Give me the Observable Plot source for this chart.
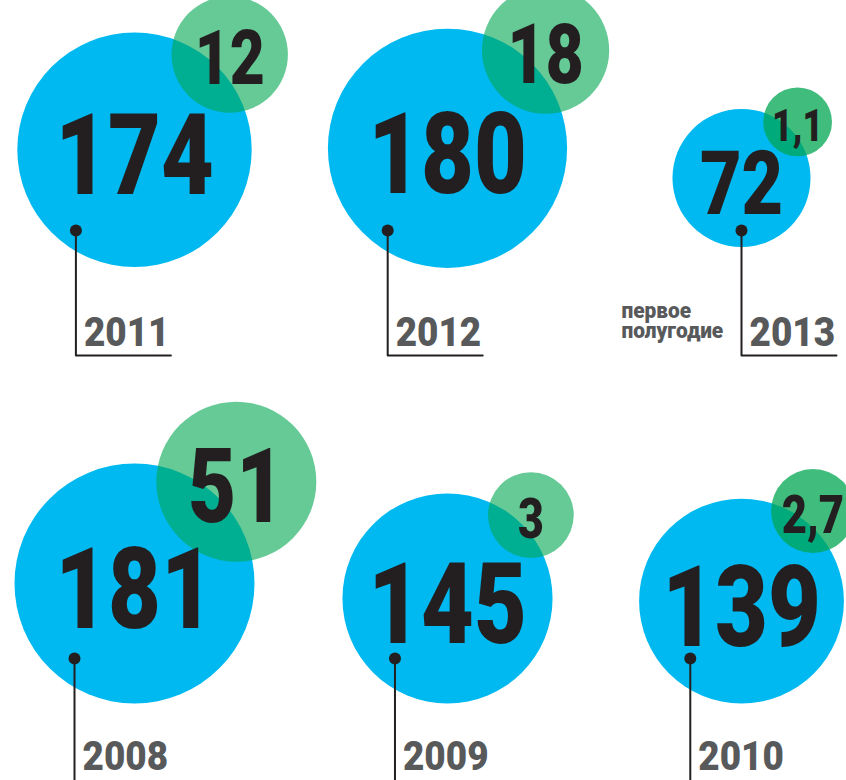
<!DOCTYPE html>
<html>
<head>
<meta charset="utf-8">
<script src="https://cdn.jsdelivr.net/npm/d3@7"></script>
<script src="https://cdn.jsdelivr.net/npm/@observablehq/plot@0.6"></script>
<style>
  html, body { margin: 0; padding: 0; overflow: hidden; background: #fff; }
  #chart svg { display: block; overflow: hidden; }
</style>
</head>
<body>
<div id="chart"></div>
<script>
// ---- data ----
const years = ["2011", "2012", "2013", "2008", "2009", "2010"];
const totals = [174, 180, 72, 181, 145, 139];
const totalLabels = ["174", "180", "72", "181", "145", "139"];
const extras = [12, 18, 1.1, 51, 3, 2.7];
const extraLabels = ["12", "18", "1,1", "51", "3", "2,7"];
const notes = ["", "", "первое\nполугодие", "", "", ""];

// ---- layout ----
const W = 846, H = 780;
const colX = [134, 447, 741];
const rowAnchor = [218, 703];   // circle centre = anchor - k * radius
const rowK = [0.587, 1];
const rowDot = [230, 658];
const rowYear = [345, 769];
const rowLeader = [355, 783];

const FONT = "Roboto, 'Liberation Sans', sans-serif";
const BLUE = "#00b9f1";
const GREEN = "#00a651";
const INK = "#231f20";
const GREY = "#58595b";

const blueR = Plot.scale({r: {type: "pow", exponent: 0.6, domain: [0, 181], range: [0, 120]}});
const greenR = Plot.scale({r: {type: "pow", exponent: 0.22, domain: [0, 51], range: [0, 80]}});

const panels = years.map((year, i) => {
  const col = i % 3, row = Math.floor(i / 3);
  const rb = blueR.apply(totals[i]);
  const rg = greenR.apply(extras[i]);
  const cx = colX[col], cy = rowAnchor[row] - rowK[row] * rb;
  const ang = Math.PI / 4, d = rb + 0.3 * rg;
  let gx = cx + d * Math.cos(ang), gy = cy - d * Math.sin(ang);
  const limit = W - 0.8 * rg;
  if (gx > limit) {            // keep the small circle on the page: slide it up along the rim
    gy -= Math.sqrt(Math.max(0, d * d - (limit - cx) ** 2)) - (cy - gy);
    gx = limit;
  }
  const dotX = notes[i] ? cx : cx - 0.5 * rb;
  return {
    year, total: totals[i], totalLabel: totalLabels[i],
    extra: extras[i], extraLabel: extraLabels[i], note: notes[i],
    rb, rg, cx, cy, gx, gy,
    fsB: Math.min(114, 1.3 * rb), fsG: 1.3 * rg,
    dotX, dotY: rowDot[row], yearY: rowYear[row], leaderY: rowLeader[row]
  };
});

const leader = panels.flatMap(p => [
  {year: p.year, x: p.dotX, y: p.dotY},
  {year: p.year, x: p.dotX, y: p.leaderY},
  {year: p.year, x: p.dotX + 95, y: p.leaderY}
]);

const chart = Plot.plot({
  width: W, height: H,
  margin: 0,
  x: {type: "linear", domain: [0, W], range: [0, W], axis: null},
  y: {type: "linear", domain: [0, H], range: [0, H], axis: null},
  r: {type: "identity"},
  style: {background: "#fff"},
  marks: [
    Plot.dot(panels, {x: "cx", y: "cy", r: "rb", fill: BLUE, stroke: null}),
    Plot.dot(panels, {x: "gx", y: "gy", r: "rg", fill: GREEN, stroke: null,
      fillOpacity: d => d.extra < 3 ? 0.75 : 0.6}),
    Plot.line(leader, {x: "x", y: "y", z: "year", stroke: INK, strokeWidth: 2, curve: "linear"}),
    Plot.dot(panels, {x: "dotX", y: "dotY", r: 6, fill: INK, stroke: null}),
    Plot.text(panels, {x: "cx", y: d => d.cy + 0.355 * d.fsB + 4, text: "totalLabel",
      fontSize: d => d.fsB, lineAnchor: "bottom", fill: INK, fontWeight: 900, fontFamily: FONT}),
    Plot.text(panels, {x: "gx", y: d => d.gy + 0.355 * d.fsG + 3, text: "extraLabel",
      fontSize: d => d.fsG, lineAnchor: "bottom", fill: INK, fontWeight: 900, fontFamily: FONT}),
    Plot.text(panels, {x: d => d.dotX + 8, y: "yearY", text: "year", textAnchor: "start",
      lineAnchor: "bottom", fontSize: 41, fill: GREY, fontWeight: 900, fontFamily: FONT}),
    Plot.text(panels.filter(p => p.note), {x: d => d.dotX - 120, y: d => d.yearY - 8, text: "note",
      textAnchor: "start", lineAnchor: "bottom", fontSize: 22, lineHeight: 0.87,
      fill: GREY, fontWeight: 900, fontFamily: FONT})
  ]
});

// condensed look: squeeze glyphs horizontally around each text's anchor
const squeeze = [0.8, 0.8, 0.9, 0.95];
d3.select(chart).selectAll('g[aria-label="text"]').each(function(_, gi) {
  const s = squeeze[gi] ?? 1;
  d3.select(this).selectAll("text").each(function() {
    let t = this.getAttribute("transform") || "";
    const x = this.getAttribute("x"), y = this.getAttribute("y");
    if (x != null || y != null) {
      t += ` translate(${x || 0},${y || 0})`;
      this.removeAttribute("x"); this.removeAttribute("y");
    }
    this.setAttribute("transform", `${t} scale(${s},1)`);
  });
});

document.getElementById("chart").appendChild(chart);
</script>
</body>
</html>
